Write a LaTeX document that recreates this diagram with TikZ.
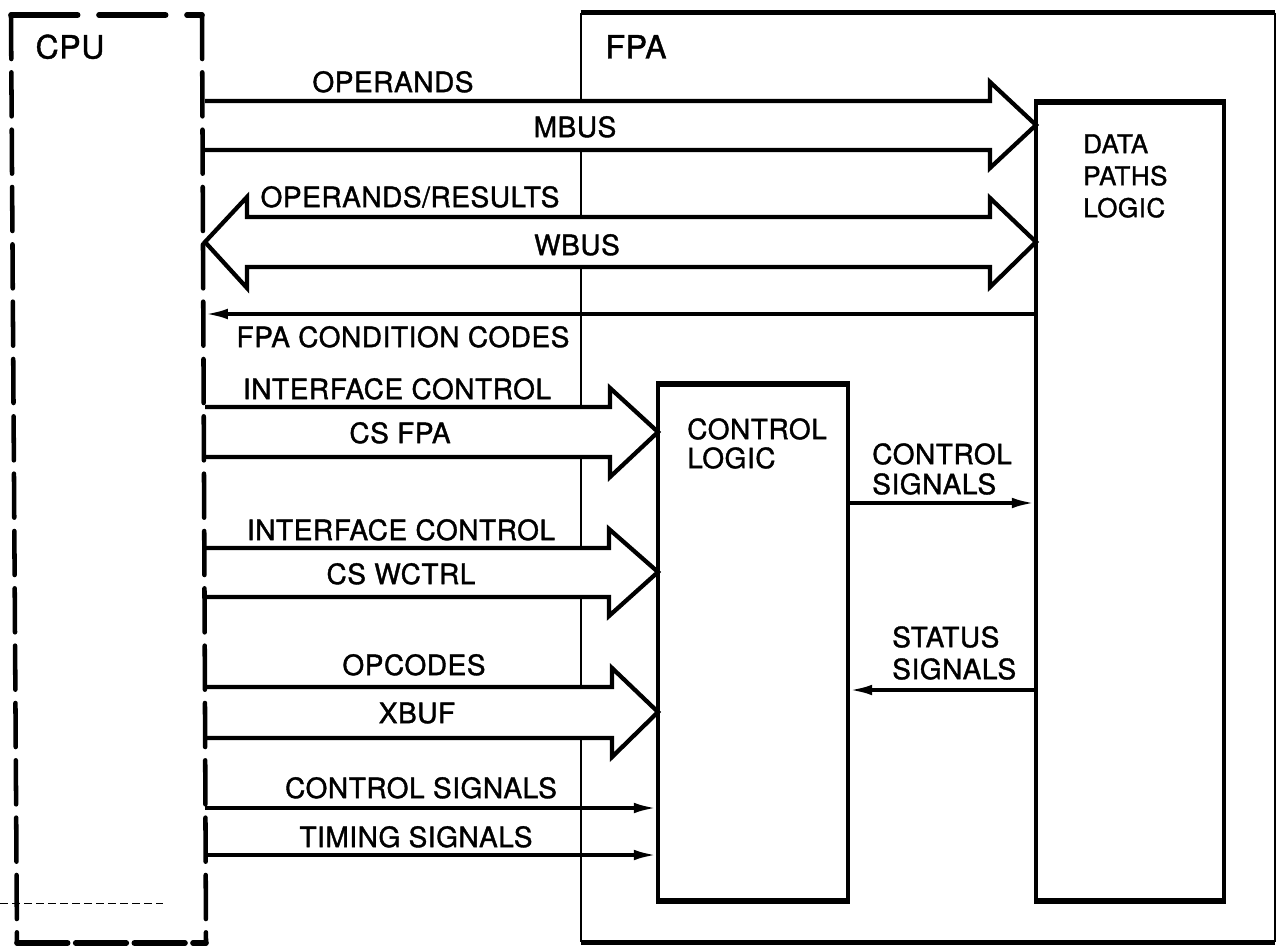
\documentclass[tikz,border=0pt]{standalone}
\usepackage{fontspec}
\setmainfont{TeX Gyre Heros}[FakeBold=1.3, LetterSpace=2]
\usetikzlibrary{arrows.meta,fit}
\begin{document}
\begin{tikzpicture}[x=0.75pt,y=-0.75pt,
  lbl/.style={inner sep=0pt, font=\fontsize{21}{25}\selectfont, text height=15.1pt, text depth=0pt},
  big/.style={inner sep=0pt, font=\fontsize{24}{28}\selectfont, text height=17.2pt, text depth=0pt},
  multi/.style={inner sep=0pt, anchor=north west, align=left},
  bus/.style={line width=3.2pt, fill=white, line join=miter},
  sig/.style={line width=2.6pt, -{Latex[length=17pt,width=8pt]}},
  boxside/.style={line width=2.3pt},
  boxedge/.style={line width=3.8pt},
  cpudash/.style={line width=3.4pt, line cap=round, dash pattern=on 33pt off 10pt},
]
\useasboundingbox (0,0) rectangle (1279,947);
\fill[white] (0,0) rectangle (1279,947);

% invisible frames for the two units
\node[fit={(17,13) (205,943)}, inner sep=0pt] (cpu) {};
\node[fit={(581,13) (1275,942)}, inner sep=0pt] (fpa) {};

% FPA frame
\draw[line width=1.5pt] (fpa.north west) -- (fpa.south west);
\draw[line width=1.8pt] (fpa.north east) -- (fpa.south east);
\draw[line width=4pt] (fpa.north west) -- (fpa.north east);
\draw[line width=4pt] (fpa.south west) -- (fpa.south east);

% inner blocks
\node[draw, boxside, fit={(1036,103) (1224,900)}, inner sep=0pt] (dp) {};
\draw[boxedge] (dp.north west) -- (dp.north east);
\draw[boxedge] (dp.south west) -- (dp.south east);
\node[draw, boxside, fit={(658,385) (848,900)}, inner sep=0pt] (cl) {};
\draw[boxedge] (cl.north west) -- (cl.north east);
\draw[boxedge] (cl.south west) -- (cl.south east);

% buses
\filldraw[bus] (205,101) -- (990,101) -- (990,82) -- (1036,125) -- (990,168) -- (990,150) -- (205,150);
\filldraw[bus] (247,217) -- (990,217) -- (990,198) -- (1036,242) -- (990,287) -- (990,267) -- (247,267) -- (247,288) -- (205,242) -- (247,197) -- cycle;
\filldraw[bus] (205,407) -- (610,407) -- (610,388) -- (658,432) -- (610,477) -- (610,457) -- (205,457);
\filldraw[bus] (205,548) -- (609,548) -- (609,529) -- (658,572) -- (609,616) -- (609,597) -- (205,597);
\filldraw[bus] (205,687) -- (612,687) -- (612,668) -- (658,712) -- (612,757) -- (612,738) -- (205,738);

% signal lines
\coordinate (fcc) at (0,314);
\coordinate (csr) at (0,503);
\coordinate (ssr) at (0,690);
\coordinate (csl) at (0,808);
\coordinate (tsl) at (0,855);
\draw[sig] (dp.west |- fcc) -- (cpu.east |- fcc);
\draw[sig] (cl.east |- csr) -- (dp.west |- csr);
\draw[sig] (dp.west |- ssr) -- (cl.east |- ssr);
\draw[sig] (cpu.east |- csl) -- (cl.west |- csl);
\draw[sig] (cpu.east |- tsl) -- (cl.west |- tsl);

% CPU dashed frame
\draw[line width=4.2pt, line cap=round, dash pattern=on 50pt off 16pt] (11,15) -- (202,15);
\draw[cpudash] (11,15) -- (17,943);
\draw[cpudash] (202,15) -- (206,943);
\draw[line width=4.2pt, line cap=round, dash pattern=on 38pt off 6pt] (17,943) -- (206,943);
\draw[line width=0.7pt, dash pattern=on 6pt off 3pt] (0,903) -- (163,903);

% texts
\node[big] (tcpu) at (70,47) {CPU};
\node[big] (tfpa) at (636,47) {FPA};
\node[lbl] (t1) at (393,82) {OPERANDS};
\node[lbl] (t2) at (575,127) {MBUS};
\node[lbl] (t3) at (410,197) {OPERANDS/RESULTS};
\node[lbl] (t4) at (577,245) {WBUS};
\node[lbl] (t5) at (403,337) {FPA CONDITION CODES};
\node[lbl] (t6) at (397,389) {INTERFACE CONTROL};
\node[lbl] (t7) at (400,433) {CS FPA};
\node[lbl] (t8) at (401,530) {INTERFACE CONTROL};
\node[lbl] (t9) at (401,574) {CS WCTRL};
\node[lbl] (t10) at (414,665) {OPCODES};
\node[lbl] (t11) at (417,713) {XBUF};
\node[lbl] (t12) at (421,788) {CONTROL SIGNALS};
\node[lbl] (t13) at (416,837) {TIMING SIGNALS};
\node[multi, font=\fontsize{19.5}{24}\selectfont] (tdp) at (1083,134) {DATA\\PATHS\\LOGIC};
\node[multi, font=\fontsize{21}{21.75}\selectfont] (tcl) at (687,418) {CONTROL\\LOGIC};
\node[multi, font=\fontsize{21}{22.5}\selectfont] (tcs) at (872,443) {CONTROL\\SIGNALS};
\node[multi, font=\fontsize{21}{24}\selectfont] (tss) at (892,626) {STATUS\\SIGNALS};
\end{tikzpicture}
\end{document}
